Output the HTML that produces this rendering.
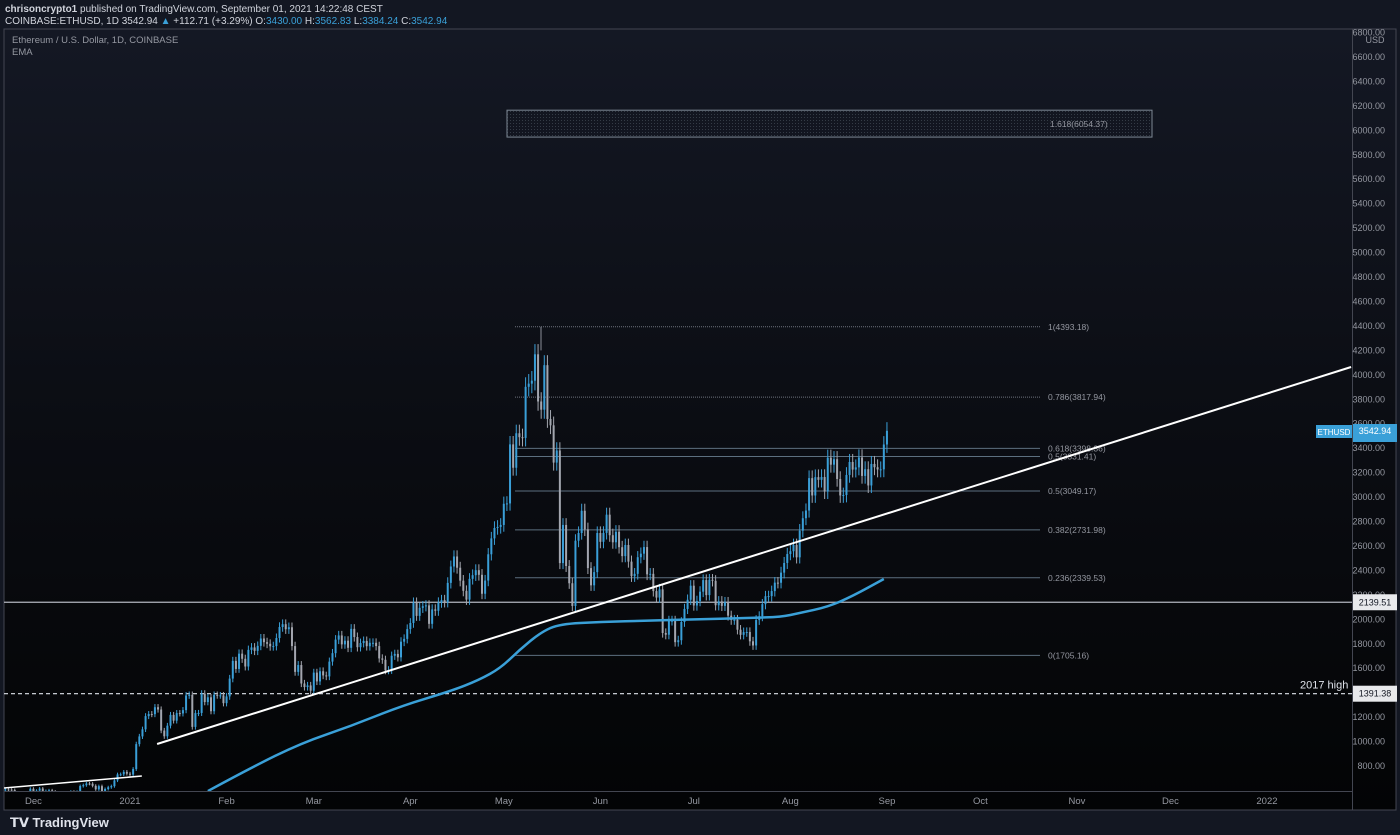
<!DOCTYPE html>
<html><head><meta charset="utf-8">
<style>
html,body{margin:0;padding:0;background:#131722;}
body{width:1400px;height:835px;overflow:hidden;position:relative;font-family:"Liberation Sans",sans-serif;}
svg{position:absolute;left:0;top:0;}
</style></head>
<body>
<svg id="chart" width="1400" height="835" viewBox="0 0 1400 835" xmlns="http://www.w3.org/2000/svg">
<defs>
<linearGradient id="bg" x1="0" y1="0" x2="0" y2="1">
<stop offset="0" stop-color="#141824"/><stop offset="0.5" stop-color="#0b0d13"/><stop offset="1" stop-color="#030405"/>
</linearGradient>
<pattern id="dots" width="3" height="3" patternUnits="userSpaceOnUse"><rect width="1" height="1" fill="#4a5560"/></pattern>
<clipPath id="plot"><rect x="4" y="29" width="1348" height="762"/></clipPath>
</defs>
<rect x="0" y="0" width="1400" height="835" fill="#131722"/>
<rect x="4" y="29" width="1392" height="781" fill="url(#bg)" stroke="#434651" stroke-width="1"/>
<line x1="1352.5" y1="29" x2="1352.5" y2="810" stroke="#434651"/>
<line x1="4" y1="791.5" x2="1352" y2="791.5" stroke="#434651"/>
<text x="5" y="12" font-size="10" fill="#d1d4dc"><tspan font-weight="bold">chrisoncrypto1</tspan> published on TradingView.com, September 01, 2021 14:22:48 CEST</text>
<text x="5" y="24" font-size="10" fill="#d1d4dc">COINBASE:ETHUSD, 1D 3542.94 <tspan fill="#3aa0d8">▲</tspan> +112.71 (+3.29%) O:<tspan fill="#3aa0d8">3430.00</tspan> H:<tspan fill="#3aa0d8">3562.83</tspan> L:<tspan fill="#3aa0d8">3384.24</tspan> C:<tspan fill="#3aa0d8">3542.94</tspan></text>
<text x="12" y="43" font-size="9.5" fill="#9598a1">Ethereum / U.S. Dollar, 1D, COINBASE</text>
<text x="12" y="55" font-size="9.5" fill="#9598a1">EMA</text>
<g id="plotg" clip-path="url(#plot)"></g>
<g id="axes"></g>
<text x="10" y="827" font-size="13" font-weight="bold" fill="#e0e3eb">𝗧𝗩 TradingView</text>
</svg>
<script>
const startDay = -40; // Nov 22 2020, day 0 = Jan 1 2021
const closes = [608,607,604,568,518,517,538,575,614,587,598,616,569,596,601,591,554,573,560,545,568,590,586,589,636,643,657,655,638,609,635,583,612,626,635,682,731,732,752,737,
730,775,979,1042,1100,1208,1225,1224,1281,1262,1090,1043,1130,1218,1171,1233,1230,1257,1377,1382,1120,1233,1234,1392,1323,1362,1248,1382,1378,1378,1314,
1369,1515,1660,1594,1719,1677,1614,1750,1770,1742,1783,1843,1813,1800,1779,1781,1847,1937,1960,1919,1935,1781,1570,1626,1475,1446,1459,1416,
1564,1492,1575,1541,1533,1654,1723,1834,1868,1795,1825,1767,1922,1855,1772,1806,1823,1780,1808,1808,1781,1680,1669,1582,1585,1702,1717,1689,1817,1840,1920,
1970,2136,2028,2094,2107,2114,1963,2081,2070,2137,2157,2140,2298,2432,2514,2422,2316,2233,2161,2331,2361,2402,2364,2209,2317,2532,2662,2747,2756,2772,
2945,2948,3431,3240,3522,3490,3484,3902,3928,3952,4168,3782,3715,4079,3639,3587,3282,3381,2460,2772,2436,2295,2109,2643,2706,2888,2736,2419,2278,2386,2706,
2634,2707,2856,2688,2630,2716,2590,2517,2608,2472,2353,2372,2508,2537,2591,2368,2372,2231,2178,2245,1888,1874,1989,1989,1813,1829,1978,2085,2160,2275,
2113,2150,2226,2321,2198,2324,2315,2115,2147,2110,2140,2030,1995,1996,1915,1873,1895,1896,1820,1786,1994,2025,2124,2189,2190,2231,2300,2299,2382,2461,2534,
2557,2608,2507,2725,2827,2890,3155,3013,3163,3141,3164,3045,3322,3265,3310,3148,3013,3017,3181,3287,3225,3243,3324,3173,3228,3095,3271,3244,3226,3227,3430,3542];
const emaDays = [25,38,55,71,87,103,112,119,125,132,138,151,167,183,199,209,215,224,232,242];
const emaVals = [595,775,988,1127,1291,1413,1503,1602,1749,1896,1962,1978,1990,2000,2012,2019,2052,2101,2190,2330];
const fibLevels = ["1","0.786","0.618","0.5","0.382","0.236","0"];
const fibPrices = [4393.18,3817.94,3398.36,3049.17,2731.98,2339.53,1705.16];
const priceTicks = [800,1000,1200,1400,1600,1800,2000,2200,2400,2600,2800,3000,3200,3400,3600,3800,4000,4200,4400,4600,4800,5000,5200,5400,5600,5800,6000,6200,6400,6600,6800];
const timeLabels = ["Dec","2021","Feb","Mar","Apr","May","Jun","Jul","Aug","Sep","Oct","Nov","Dec","2022"];
const timeDays = [-31,0,31,59,90,120,151,181,212,243,273,304,334,365];
const trendDays = [8.7,392];
const trendPrices = [980,4064];
const shortTrendDays = [-40.5,3.8];
const shortTrendPrices = [620,718];

const X = d => 130 + d*3.115;
const Y = p => 766 - (p-800)*0.12224;
const NS = "http://www.w3.org/2000/svg";
function mk(tag, attrs, parent){const e=document.createElementNS(NS,tag);for(const k in attrs)e.setAttribute(k,attrs[k]);parent.appendChild(e);return e;}
const g = document.getElementById('plotg');
const ax = document.getElementById('axes');

let b = mk('rect',{x:507,y:Y(6165),width:645,height:Y(5945)-Y(6165),fill:'url(#dots)',stroke:'#7d8894','stroke-width':1,'fill-opacity':0.6},g);


let t = mk('text',{x:1050,y:Y(6054)+3,'font-size':8.5,fill:'#9598a1'},g); t.textContent='1.618(6054.37)';



fibPrices.forEach((p,i)=>{
  const l = mk('line',{x1:515,x2:1040,y1:Y(p),y2:Y(p),stroke:i<2?'#6d727c':'#5c6f7f','stroke-width':1,'stroke-dasharray':i<2?'1 1':''},g);
  
  
  const tx = mk('text',{x:1048,y:Y(p)+3,'font-size':8.5,fill:'#9598a1'},g);
  tx.textContent = fibLevels[i]+'('+p.toFixed(2)+')';
  
  
});
let l2 = mk('line',{x1:515,x2:1040,y1:Y(3331.41),y2:Y(3331.41),stroke:'#5c6f7f'},g);


let t2 = mk('text',{x:1048,y:Y(3331.41)+3,'font-size':8.5,fill:'#9598a1'},g); t2.textContent='0.5(3331.41)';



let h1 = mk('line',{x1:4,x2:1352,y1:Y(2139.51),y2:Y(2139.51),stroke:'#b2b5be','stroke-width':1.2},g);


let h2 = mk('line',{x1:4,x2:1352,y1:Y(1391.38),y2:Y(1391.38),stroke:'#e0e3eb','stroke-width':1.2,'stroke-dasharray':'4 3'},g);


let th = mk('text',{x:1300,y:Y(1391.38)-5,'font-size':11,fill:'#e0e3eb'},g); th.textContent='2017 high';



for(let i=0;i<closes.length;i++){
  const d = startDay+i, c = closes[i], o = i>0?closes[i-1]:c;
  const up = c>=o, hi = Math.max(o,c)*1.02, lo = Math.min(o,c)*0.98;
  const x = X(d), col = up?'#3a9fd8':'#a3a6af';
  const w = mk('line',{x1:x,x2:x,y1:Y(hi),y2:Y(lo),stroke:col,'stroke-width':1},g);
  
  
  const top=Y(Math.max(o,c)), bot=Y(Math.min(o,c));
  const r = mk('rect',{x:x-1,y:top,width:2,height:Math.max(1,bot-top),fill:col},g);
  
  
}

// EMA smoothed path
const ep = emaDays.map((d,i)=>[X(d),Y(emaVals[i])]);
let dstr = 'M'+ep[0][0]+','+ep[0][1];
for(let i=1;i<ep.length-1;i++){
  const mx=(ep[i][0]+ep[i+1][0])/2, my=(ep[i][1]+ep[i+1][1])/2;
  dstr += ' Q'+ep[i][0]+','+ep[i][1]+' '+mx+','+my;
}
dstr += ' L'+ep[ep.length-1][0]+','+ep[ep.length-1][1];
let ema = mk('path',{d:dstr,fill:'none',stroke:'#3aa0d8','stroke-width':2.5,'stroke-linejoin':'round'},g);



let tl = mk('line',{x1:X(trendDays[0]),y1:Y(trendPrices[0]),x2:X(trendDays[1]),y2:Y(trendPrices[1]),stroke:'#ffffff','stroke-width':2},g);


let tl2 = mk('line',{x1:X(shortTrendDays[0]),y1:Y(shortTrendPrices[0]),x2:X(shortTrendDays[1]),y2:Y(shortTrendPrices[1]),stroke:'#ffffff','stroke-width':1.5},g);


let vl = mk('line',{x1:541,x2:541,y1:Y(4393.18),y2:Y(4200),stroke:'#8a8e98'},g);



priceTicks.forEach(p=>{
  const tx = mk('text',{x:1385,y:Y(p)+3,'font-size':9,fill:'#9598a1','text-anchor':'end'},ax);
  tx.textContent = p.toFixed(2);
  
  
});
let usd = mk('text',{x:1375,y:43,'font-size':9,fill:'#9598a1','text-anchor':'middle'},ax); usd.textContent='USD';



function tag(p, txt, bg, fg, name){
  const r = mk('rect',{x:1353,y:Y(p)-8,width:44,height:16,fill:bg},ax);
  
  
  const tx = mk('text',{x:1375,y:Y(p)+3,'font-size':9,fill:fg,'text-anchor':'middle'},ax);
  tx.textContent = txt;
  
  
}
tag(2139.51,'2139.51','#e8e9ec','#131722','price-tag-2139');
tag(1391.38,'1391.38','#e8e9ec','#131722','price-tag-1391');
let eb = mk('rect',{x:1316,y:425,width:36,height:13,fill:'#3aa0d8'},ax);


let et = mk('text',{x:1334,y:435,'font-size':8,fill:'#ffffff','text-anchor':'middle'},ax); et.textContent='ETHUSD';


let pb = mk('rect',{x:1353,y:424,width:44,height:18,fill:'#3aa0d8'},ax);


let pt = mk('text',{x:1375,y:434,'font-size':9,fill:'#ffffff','text-anchor':'middle'},ax); pt.textContent='3542.94';



timeLabels.forEach((s,i)=>{
  const tx = mk('text',{x:X(timeDays[i]),y:804,'font-size':9.5,fill:'#9598a1','text-anchor':'middle'},ax);
  tx.textContent = s;
  
  
});
</script>
</body></html>
